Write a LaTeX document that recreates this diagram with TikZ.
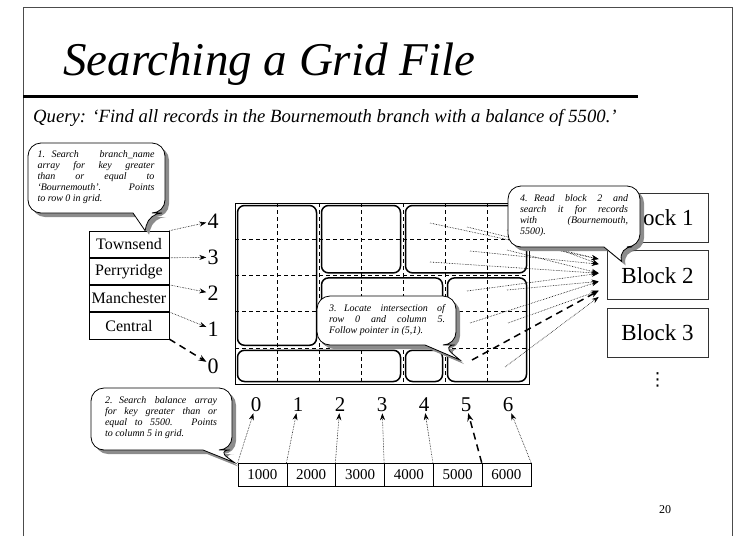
\documentclass[tikz,border=0pt]{standalone}
\usepackage{fontspec}
\setmainfont{Liberation Serif}
\newfontfamily\symfont{DejaVu Sans}
\usetikzlibrary{arrows.meta, shadows, math, calc, positioning}

\tikzset{
  namecell/.style={draw, line width=0.6pt, inner sep=0pt, minimum width=80pt, minimum height=26.5pt, font=\fontsize{16}{18}\selectfont},
  balcell/.style={draw, line width=0.6pt, inner sep=0pt, minimum width=48.8pt, minimum height=23pt, font=\fontsize{15}{17}\selectfont},
  blockbox/.style={draw=black!80, line width=0.8pt, inner sep=0pt, minimum width=101pt, minimum height=49pt, font=\fontsize{23}{25}\selectfont},
  bucket/.style={line width=1.5pt, rounded corners=7pt},
  gridline/.style={line width=0.6pt, dash pattern=on 4pt off 3pt},
  ptr/.style={line width=0.6pt, densely dotted, shorten >=1pt, -{Stealth[length=7pt,width=5pt]}},
  bigptr/.style={line width=1.5pt, dash pattern=on 7pt off 5pt, shorten >=1pt, -{Stealth[length=8pt,width=6pt]}},
  bubble/.style={draw, fill=white, line width=0.8pt, drop shadow={shadow xshift=4pt, shadow yshift=-4pt, fill=black!45, opacity=1}},
  note/.style={inner sep=0pt, align=justify, font=\fontsize{10}{11}\selectfont\itshape},
  num/.style={inner sep=0pt, font=\fontsize{22}{24}\selectfont},
}

\begin{document}
\begin{tikzpicture}[x=1pt, y=-1pt]
\tikzmath{
\gx=235; \gt=203;
\cw=42; \rh=36.2;
\gb=\gt+5*\rh;
}
\useasboundingbox (0,0) rectangle (736,536);

 %slide:
 \draw[line width=0.8pt, black!70] (23,536) -- (23,7) -- (732,7) -- (732,536);
 \node[anchor=base west, inner sep=0pt, font=\fontsize{47}{50}\selectfont\itshape] (title) at (63,75) {Searching a Grid File};
 \draw[line width=3pt] (23,96) -- (638,96);
 \node[anchor=base west, inner sep=0pt, font=\fontsize{18.7}{21}\selectfont\itshape] (query) at (33,122) {Query: `Find all records in the Bournemouth branch with a balance of 5500.'};
 \node[font=\fontsize{12}{14}\selectfont] (pagenum) at (665,510) {20};

 %grid:
 \draw[line width=0.6pt] (\gx,\gt) rectangle ({\gx+7*\cw},\gb);
 \foreach \c in {1,...,6}
   \draw[gridline] ({\gx+\c*\cw},\gt) -- ({\gx+\c*\cw},\gb);
 \foreach \r in {1,...,4}
   \draw[gridline] (\gx,{\gt+\r*\rh}) -- ({\gx+7*\cw},{\gt+\r*\rh});

 %buckets:
 \foreach \ca/\ra/\cb/\rb in {0/1/1/4, 2/3/3/4, 4/3/6/4, 2/1/4/2, 5/0/6/2, 0/0/3/0, 4/0/4/0}
   \draw[bucket] ({\gx+\ca*\cw+2.5},{\gb-(\rb+1)*\rh+2.5}) rectangle ({\gx+(\cb+1)*\cw-2.5},{\gb-\ra*\rh-2.5});

 \foreach \r in {0,...,4}
   \node[num] (r\r) at (213,{\gb-(\r+0.5)*\rh}) {\r};
 \foreach \c in {0,...,6}
   \node[num, font=\fontsize{21}{23}\selectfont] (c\c) at ({\gx+(\c+0.5)*\cw},405) {\c};

 %branch_name array:
 \node[namecell] (townsend) at (129,244.25) {Townsend};
 \node[namecell, below=0pt of townsend] (perryridge) {Perryridge};
 \node[namecell, below=0pt of perryridge] (manchester) {Manchester};
 \node[namecell, below=0pt of manchester] (central) {Central};

 \draw[ptr] (townsend.north east) -- (r4);
 \draw[ptr] (perryridge.north east) -- (r3);
 \draw[ptr] (manchester.north east) -- (r2);
 \draw[ptr] (central.north east) -- (r1);
 \draw[bigptr] (central.south east) -- (r0);

 %balance array:
 \foreach \v [count=\i from 0] in {1000,2000,...,6000}
   \node[balcell] (b\i) at ({262.4+\i*48.8},474.5) {\v};
 \foreach \i in {0,...,4}
   \draw[ptr] (b\i.north west) -- (c\i);
 \draw[bigptr] (b5.north west) -- (c5);
 \draw[ptr] (b5.north east) -- (c6);

 %blocks:
 \node[blockbox] (blk1) at (657.5,217.5) {Block 1};
 \node[blockbox, below=8pt of blk1] (blk2) {Block 2};
 \node[blockbox, below=8pt of blk2] (blk3) {Block 3};
 \node[font=\fontsize{18}{20}\selectfont\symfont, inner sep=0pt, below=14pt of blk3] (more) {⋮};

 %pointers to block 2:
 \foreach \n/\dy in {1/-16, 2/-11, 3/-2, 4/6, 5/15, 6/21}
   \coordinate (in\n) at ($(blk2.west)+(-7,\dy)$);
 \foreach \n/\px/\py in {c4r4/430/223, c5r4/467/227, c6r4/507/230, c5r3/470/251, c4r3/430/262, c6r3/507/250,
                         c5r2/467/291, c6r2/507/290, c5r1/470/323, c6r1/508/323, c6r0/505/367, c5r0/472/360}
   \coordinate (\n) at (\px,\py);
 \foreach \s/\t in {c4r4/1, c5r4/1, c6r4/2, c5r3/2, c4r3/3, c6r3/3, c5r2/3, c6r2/4, c5r1/4, c6r1/5, c6r0/6}
   \draw[ptr] (\s) -- (in\t);
 \draw[bigptr] (c5r0) -- (in5);

 %callouts:
 \coordinate (tip1) at ($(townsend.north west)!0.7!(townsend.north east)$);
 \coordinate (tip2) at ($(b0.north west)+(-3,0)$);
 \coordinate (tip3) at ($(c5r0)+(-12,0)$);
 \coordinate (tip4) at ($(blk2.north west)+(15,11)$);

 \path[bubble] (133,213) [rounded corners=13pt] -- (28,213) -- (28,143) -- (165,143) -- (165,213) -- (149,213) [sharp corners] -- (tip1) -- cycle;
 \node[note, text width=117pt] (step1) at (96,177) {\noindent\makebox[14pt][l]{1.}\hangindent=14pt\hangafter=1 Search branch\_name\linebreak array for key greater\linebreak than or equal to\linebreak `Bournemouth'. Points\linebreak to row 0 in grid.};

 \path[bubble] (203,450) [rounded corners=13pt] -- (91,450) -- (91,388) -- (232,388) -- (232,450) -- (217,450) [sharp corners] -- (tip2) -- cycle;
 \node[note, text width=112pt] (step2) at (161,418) {\noindent\makebox[14pt][l]{2.}\hangindent=14pt\hangafter=1 Search balance array\linebreak for key greater than or\linebreak equal to 5500. Points\linebreak to column 5 in grid.};

 \path[bubble] (425,345) [rounded corners=13pt] -- (317,345) -- (317,296) -- (456,296) -- (456,345) -- (442,345) [sharp corners] -- (tip3) -- cycle;
 \node[note, text width=116pt] (step3) at (387,320) {\noindent\makebox[15pt][l]{3.}\hangindent=15pt\hangafter=1 Locate intersection of\linebreak row 0 and column 5.\linebreak Follow pointer in (5,1).};

 \path[bubble] (604,247) [rounded corners=13pt] -- (508,247) -- (508,186) -- (640,186) -- (640,247) -- (619,247) [sharp corners] -- (tip4) -- cycle;
 \node[note, text width=108pt] (step4) at (574,216) {\noindent\makebox[14pt][l]{4.}\hangindent=14pt\hangafter=1 Read block 2 and\linebreak search it for records\linebreak with (Bournemouth,\linebreak 5500).};

\end{tikzpicture}
\end{document}
